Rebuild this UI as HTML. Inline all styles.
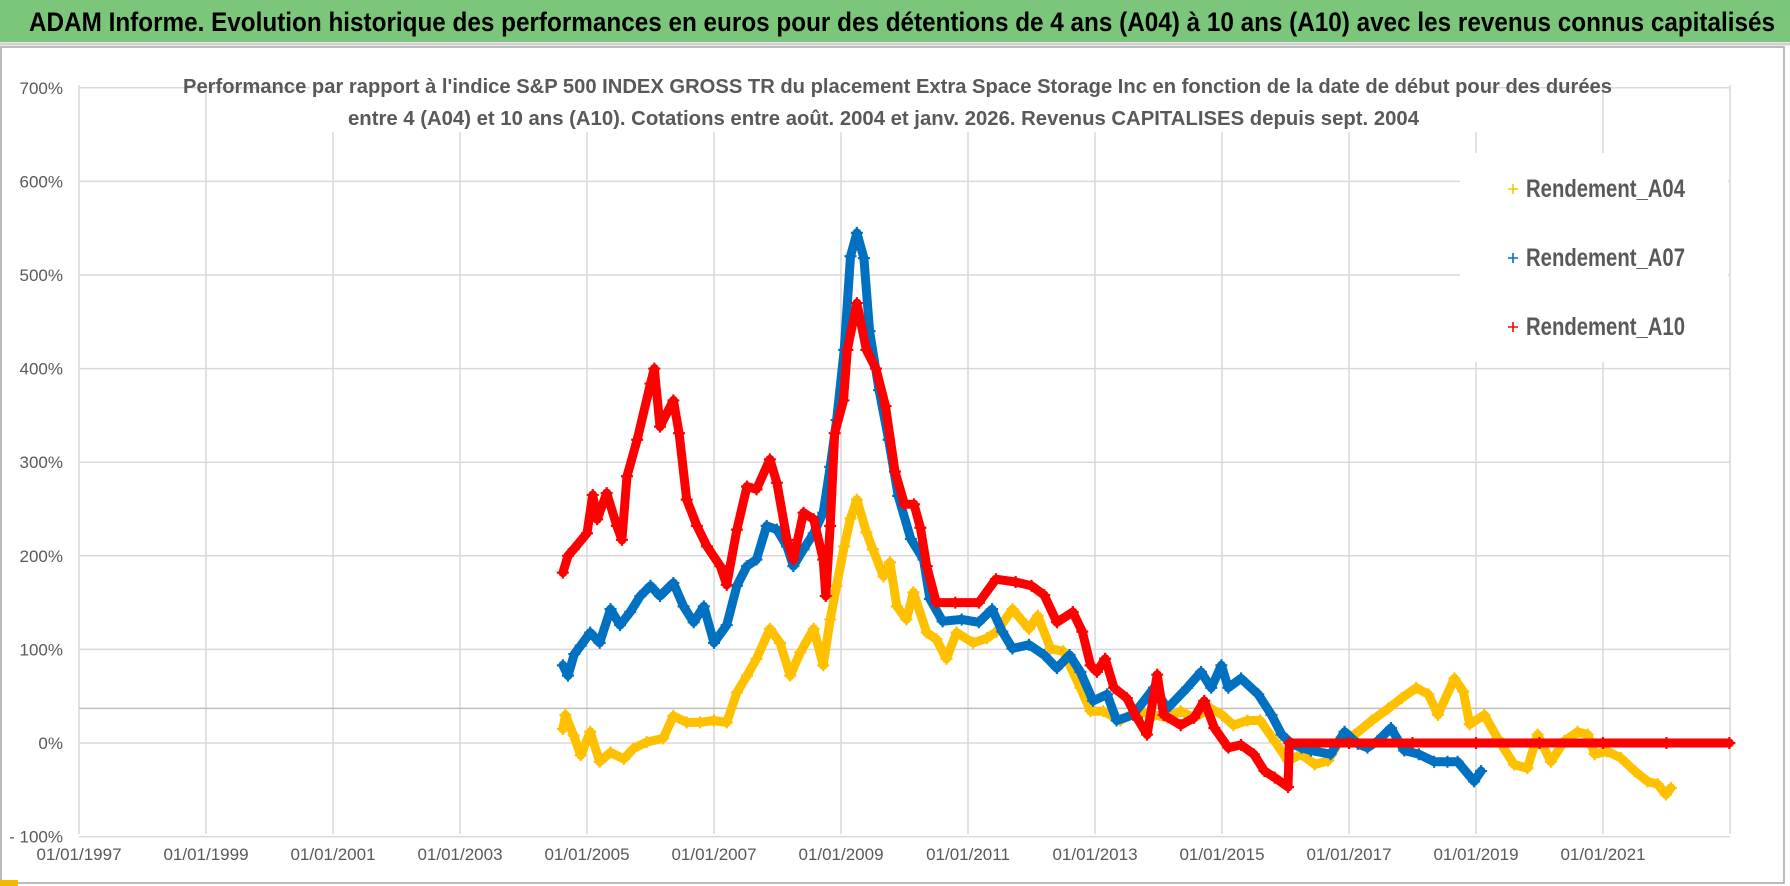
<!DOCTYPE html>
<html><head><meta charset="utf-8">
<style>
html,body{margin:0;padding:0;background:#fff;}
svg{display:block;}
text{font-family:"Liberation Sans Narrow","Liberation Sans",sans-serif;}
</style></head>
<body>
<svg id="chart" width="1790" height="886" viewBox="0 0 1790 886" xmlns="http://www.w3.org/2000/svg">
  <rect x="0" y="0" width="1790" height="886" fill="#fff"/>
  <rect x="0" y="0" width="1790" height="42" fill="#7cc67c"/>
  <line x1="0" y1="44" x2="1790" y2="44" stroke="#d0d0d0" stroke-width="3"/>
  <text x="29" y="31" font-size="27" font-weight="bold" fill="#000" textLength="1746" lengthAdjust="spacingAndGlyphs">ADAM Informe. Evolution historique des performances en euros pour des détentions de 4 ans (A04) à 10 ans (A10) avec les revenus connus capitalisés</text>
  <rect x="1" y="47" width="1783" height="836" fill="none" stroke="#a6a6a6" stroke-width="1.5"/>
  <rect x="0" y="880" width="18" height="6" fill="#f2b800"/>
  <g id="grid"></g>
  <g id="axes"></g>
  <rect x="310" y="70" width="1180" height="62" fill="#fff"/>
  <text x="183" y="93" font-size="20" font-weight="bold" fill="#595959" textLength="1429" lengthAdjust="spacingAndGlyphs">Performance par rapport à l'indice S&amp;P 500 INDEX GROSS TR  du placement Extra Space Storage Inc en fonction de la date de début pour des durées</text>
  <text x="348" y="125" font-size="20" font-weight="bold" fill="#595959" textLength="1071" lengthAdjust="spacingAndGlyphs">entre 4 (A04) et 10 ans (A10). Cotations entre août. 2004 et janv. 2026. Revenus CAPITALISES depuis sept. 2004</text>
  <g id="series"></g>
  <g id="legend">
    <rect x="1460" y="153" width="268" height="209" fill="#fff"/>
    <g>
      <path d="M1508 189h10M1513 184v10" stroke="#ffc000" stroke-width="1.6"/>
      <text x="1526" y="197" font-size="25" font-weight="bold" fill="#595959" textLength="159" lengthAdjust="spacingAndGlyphs">Rendement_A04</text>
    </g>
    <g>
      <path d="M1508 258h10M1513 253v10" stroke="#0070c0" stroke-width="1.6"/>
      <text x="1526" y="266" font-size="25" font-weight="bold" fill="#595959" textLength="159" lengthAdjust="spacingAndGlyphs">Rendement_A07</text>
    </g>
    <g>
      <path d="M1508 327h10M1513 322v10" stroke="#ff0000" stroke-width="1.6"/>
      <text x="1526" y="335" font-size="25" font-weight="bold" fill="#595959" textLength="159" lengthAdjust="spacingAndGlyphs">Rendement_A10</text>
    </g>
  </g>
</svg>
<script>
const yTicks = [-100, 0, 100, 200, 300, 400, 500, 600, 700];
const yTickLabels = ["- 100%", "0%", "100%", "200%", "300%", "400%", "500%", "600%", "700%"];
const xTickYears = [1997, 1999, 2001, 2003, 2005, 2007, 2009, 2011, 2013, 2015, 2017, 2019, 2021, 2023];
const xTickLabels = ["01/01/1997", "01/01/1999", "01/01/2001", "01/01/2003", "01/01/2005", "01/01/2007", "01/01/2009", "01/01/2011", "01/01/2013", "01/01/2015", "01/01/2017", "01/01/2019", "01/01/2021", ""];
const refLineValue = [37];

const a04Dates = [2004.62,2004.66,2004.79,2004.9,2005.05,2005.2,2005.37,2005.58,2005.73,2005.94,2006.2,2006.36,2006.57,2006.78,2007.0,2007.2,2007.36,2007.52,2007.67,2007.88,2008.04,2008.2,2008.36,2008.57,2008.72,2008.83,2008.93,2009.05,2009.15,2009.25,2009.4,2009.5,2009.67,2009.77,2009.88,2010.03,2010.14,2010.35,2010.5,2010.66,2010.82,2011.08,2011.3,2011.45,2011.7,2011.96,2012.1,2012.3,2012.5,2012.77,2012.93,2013.13,2013.4,2013.66,2013.93,2014.14,2014.35,2014.56,2014.82,2015.0,2015.18,2015.4,2015.6,2015.83,2016.04,2016.25,2016.46,2016.67,2016.88,2017.09,2017.36,2017.62,2017.83,2018.06,2018.25,2018.4,2018.66,2018.8,2018.9,2019.13,2019.34,2019.6,2019.81,2019.97,2020.18,2020.39,2020.6,2020.76,2020.87,2021.07,2021.28,2021.5,2021.7,2021.86,2021.99,2022.07];
const a04Values = [15,30,8,-13,12,-20,-10,-17,-6,1,5,29,22,22,24,22,54,72,90,122,107,72,97,122,83,132,168,210,240,260,225,207,178,193,146,132,161,118,111,90,118,107,112,119,143,122,136,101,98,59,34,34,24,34,30,27,34,27,37,30,19,24,24,2,-19,-12,-23,-19,6,9,24,37,48,59,52,30,69,55,20,30,5,-23,-27,9,-20,2,12,9,-12,-9,-16,-30,-41,-44,-55,-48];

const a07Dates = [2004.62,2004.7,2004.8,2004.9,2005.05,2005.2,2005.37,2005.52,2005.68,2005.84,2006.0,2006.15,2006.36,2006.52,2006.68,2006.84,2007.0,2007.2,2007.36,2007.52,2007.67,2007.83,2007.99,2008.15,2008.25,2008.41,2008.57,2008.72,2008.83,2008.93,2009.05,2009.15,2009.25,2009.36,2009.45,2009.6,2009.75,2009.9,2010.1,2010.3,2010.4,2010.6,2010.9,2011.17,2011.38,2011.54,2011.7,2011.96,2012.2,2012.4,2012.6,2012.77,2012.97,2013.19,2013.34,2013.6,2013.93,2014.14,2014.45,2014.67,2014.83,2014.99,2015.1,2015.3,2015.57,2015.78,2015.94,2016.1,2016.25,2016.4,2016.71,2016.93,2017.14,2017.29,2017.45,2017.66,2017.87,2018.1,2018.34,2018.55,2018.71,2018.97,2019.08];
const a07Values = [83,72,95,104,118,107,143,126,140,157,168,157,171,146,129,146,107,126,168,189,196,232,228,210,189,207,224,246,295,345,420,520,545,518,440,377,324,264,218,196,154,130,132,129,143,119,101,105,94,80,94,76,45,52,24,30,59,37,59,76,59,83,59,69,52,30,9,-1,-5,-8,-12,12,-1,-5,2,16,-8,-12,-20,-20,-20,-41,-30];

const a10Dates = [2004.62,2004.7,2004.79,2005.0,2005.09,2005.16,2005.31,2005.47,2005.55,2005.63,2005.79,2006.0,2006.06,2006.15,2006.36,2006.45,2006.57,2006.73,2006.89,2007.1,2007.2,2007.36,2007.52,2007.67,2007.88,2007.99,2008.15,2008.25,2008.41,2008.57,2008.72,2008.76,2008.83,2008.9,2009.04,2009.1,2009.25,2009.4,2009.55,2009.7,2009.85,2010.0,2010.15,2010.25,2010.35,2010.5,2010.8,2011.17,2011.44,2011.75,2012.0,2012.2,2012.4,2012.65,2012.8,2012.93,2013.03,2013.16,2013.3,2013.5,2013.66,2013.82,2013.98,2014.08,2014.35,2014.56,2014.72,2014.88,2015.1,2015.3,2015.5,2015.67,2015.83,2016.04,2016.06,2017.0,2018.0,2019.0,2020.0,2021.0,2022.0,2022.99];
const a10Values = [182,200,207,224,265,239,267,232,217,285,324,384,400,338,366,331,260,232,210,189,169,228,274,271,303,278,217,196,246,239,196,157,232,331,366,420,470,420,400,360,290,255,255,230,189,150,150,150,175,172,168,158,129,140,119,83,76,90,59,48,27,9,73,30,19,27,45,16,-5,-2,-12,-30,-37,-47,0,0,0,0,0,0,0,0];

const X0 = 79, YEARPX = 63.5, Y0 = 743, VPX = 0.936, PLOT_R = 1730, PLOT_T = 85, PLOT_B = 834;
function xScale(yr){ return X0 + (yr - 1997) * YEARPX; }
function yScale(v){ return Y0 - v * VPX; }
const NS = "http://www.w3.org/2000/svg";
function mk(tag, attrs, parent){ const e = document.createElementNS(NS, tag); for (const k in attrs) e.setAttribute(k, attrs[k]); parent.appendChild(e); return e; }

const grid = document.getElementById('grid');
const axes = document.getElementById('axes');
yTicks.forEach((t, i) => {
  const y = yScale(t);
  const l = mk('line', {x1: X0, x2: PLOT_R, y1: y, y2: y, stroke: '#d9d9d9', 'stroke-width': 1.5}, grid);
  
  
  const tx = mk('text', {x: 63, y: y + 6, 'text-anchor': 'end', 'font-size': 17, fill: '#595959'}, axes);
  tx.textContent = yTickLabels[i];
  
  
});
xTickYears.forEach((yr, i) => {
  const x = xScale(yr);
  const l = mk('line', {x1: x, x2: x, y1: PLOT_T, y2: PLOT_B, stroke: '#d9d9d9', 'stroke-width': 1.5}, grid);
  
  
  if (xTickLabels[i]) {
    const tx = mk('text', {x: x, y: 860, 'text-anchor': 'middle', 'font-size': 17, fill: '#595959'}, axes);
    tx.textContent = xTickLabels[i];
    
    
  }
});
const ref = mk('line', {x1: X0, x2: PLOT_R, y1: yScale(refLineValue[0]), y2: yScale(refLineValue[0]), stroke: '#bfbfbf', 'stroke-width': 1.5}, grid);



const seriesLayer = document.getElementById('series');
function drawSeries(dates, values, color, name){
  const g = mk('g', {}, seriesLayer);
  
  
  const pts = dates.map((d, i) => xScale(d).toFixed(1) + ',' + yScale(values[i]).toFixed(1)).join(' ');
  const pl = mk('polyline', {points: pts, fill: 'none', stroke: color, 'stroke-width': 9, 'stroke-linejoin': 'round', 'stroke-linecap': 'round'}, g);
  
  
  dates.forEach((d, i) => {
    const x = xScale(d), y = yScale(values[i]);
    const p = mk('path', {d: `M${x-6} ${y}h12M${x} ${y-6}v12`, stroke: color, 'stroke-width': 2.2}, g);
    
    
  });
}
drawSeries(a04Dates, a04Values, '#ffc000', 'series-a04');
drawSeries(a07Dates, a07Values, '#0070c0', 'series-a07');
drawSeries(a10Dates, a10Values, '#ff0000', 'series-a10');
</script>
</body></html>
